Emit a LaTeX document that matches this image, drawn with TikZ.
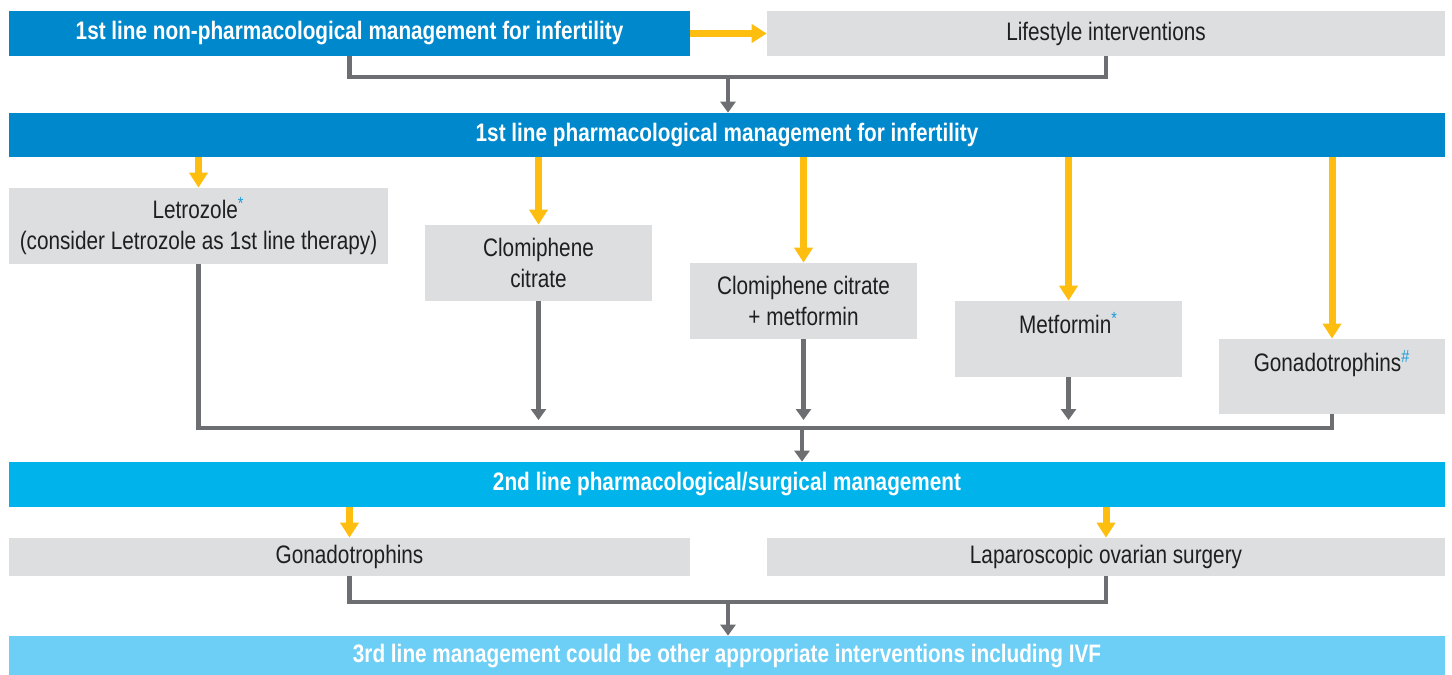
\documentclass[tikz,border=0pt]{standalone}
\usepackage{fontspec}
\setmainfont{Liberation Sans}[FakeStretch=0.82]
\usetikzlibrary{positioning,arrows.meta}

\definecolor{topblue}{HTML}{0088CC}
\definecolor{midblue}{HTML}{00B3EA}
\definecolor{lightblue}{HTML}{6DCFF6}
\definecolor{boxgray}{HTML}{DDDEE0}
\definecolor{linegray}{HTML}{6D6E71}
\definecolor{arrowyellow}{HTML}{FDBE10}
\definecolor{starblue}{HTML}{1B9BD7}

\newcommand{\bluemark}[1]{\textsuperscript{\color{starblue}#1}}

\begin{document}
\begin{tikzpicture}[x=0.02cm, y=-0.02cm,
        bar/.style={fill=#1, text=white, font=\bfseries\fontsize{14.4}{18}\selectfont,
            inner sep=0pt, minimum height=0.9cm, minimum width=28.72cm},
        drug/.style={fill=boxgray, text=black!88, font=\fontsize{14.4}{18}\selectfont,
            inner sep=0pt, align=center},
        yarrow/.style={arrowyellow, line width=4pt, -{Triangle[width=0.36cm,length=0.3cm]}},
        glink/.style={linegray, line width=2.3pt},
        garrow/.style={glink, -{Triangle[width=0.3cm,length=0.22cm]}}]
        \useasboundingbox (0,0) rectangle (1452,675);

        % 1st line, non-pharmacological
        \node[bar=topblue, minimum width=13.62cm] (nonpharm) at (349.5,33.5)
            {1st line non-pharmacological management for infertility};
        \node[drug, minimum width=13.56cm, minimum height=0.9cm] (life) at (1106,33.5)
            {Lifestyle interventions};
        \draw[yarrow] (nonpharm.east) -- (life.west);
        \coordinate (j1) at (728,77);
        \draw[glink] (nonpharm.south) |- (j1) -| (life.south);

        % 1st line, pharmacological
        \node[bar=topblue, minimum height=0.88cm] (pharm) at (727,135)
            {1st line pharmacological management for infertility};
        \draw[garrow] (j1) -- (j1 |- pharm.north);

        \node[drug, minimum width=7.58cm, minimum height=1.52cm] (letro) at (198.5,226)
            {Letrozole\bluemark{*}\\(consider Letrozole as 1st line therapy)};
        \node[drug, minimum width=4.54cm, minimum height=1.52cm] (clomi) at (538.5,263)
            {Clomiphene\\citrate};
        \node[drug, minimum width=4.54cm, minimum height=1.52cm] (clomet) at (803.5,301)
            {Clomiphene citrate\\+ metformin};
        \node[drug, minimum width=4.54cm, minimum height=1.52cm] (metf) at (1068.5,339)
            {Metformin\bluemark{*}\\\mbox{}};
        \node[drug, minimum width=4.52cm, minimum height=1.5cm] (gonad) at (1332,376.5)
            {Gonadotrophins\bluemark{\#}\\\mbox{}};

        \foreach \b in {letro,clomi,clomet,metf,gonad}
            \draw[yarrow] (pharm.south -| \b.north) -- (\b.north);

        \coordinate (bus) at (802,428);
        \coordinate (stop) at (0,420);
        \draw[glink] (letro.south) |- (bus) -| (gonad.south);
        \foreach \b in {clomi,clomet,metf}
            \draw[garrow] (\b.south) -- (\b.south |- stop);

        % 2nd line
        \node[bar=midblue] (second) at (727,484.5)
            {2nd line pharmacological/surgical management};
        \draw[garrow] (bus) -- (bus |- second.north);

        \node[drug, minimum width=13.62cm, minimum height=0.76cm] (gona2) at (349.5,557)
            {Gonadotrophins};
        \node[drug, minimum width=13.56cm, minimum height=0.76cm] (lapa) at (1106,557)
            {Laparoscopic ovarian surgery};
        \draw[yarrow] (second.south -| gona2.north) -- (gona2.north);
        \draw[yarrow] (second.south -| lapa.north) -- (lapa.north);

        % 3rd line
        \coordinate (j3) at (728,602);
        \draw[glink] (gona2.south) |- (j3) -| (lapa.south);
        \node[bar=lightblue, minimum height=0.8cm] (third) at (727,656)
            {3rd line management could be other appropriate interventions including IVF};
        \draw[garrow] (j3) -- (j3 |- third.north);
\end{tikzpicture}
\end{document}
